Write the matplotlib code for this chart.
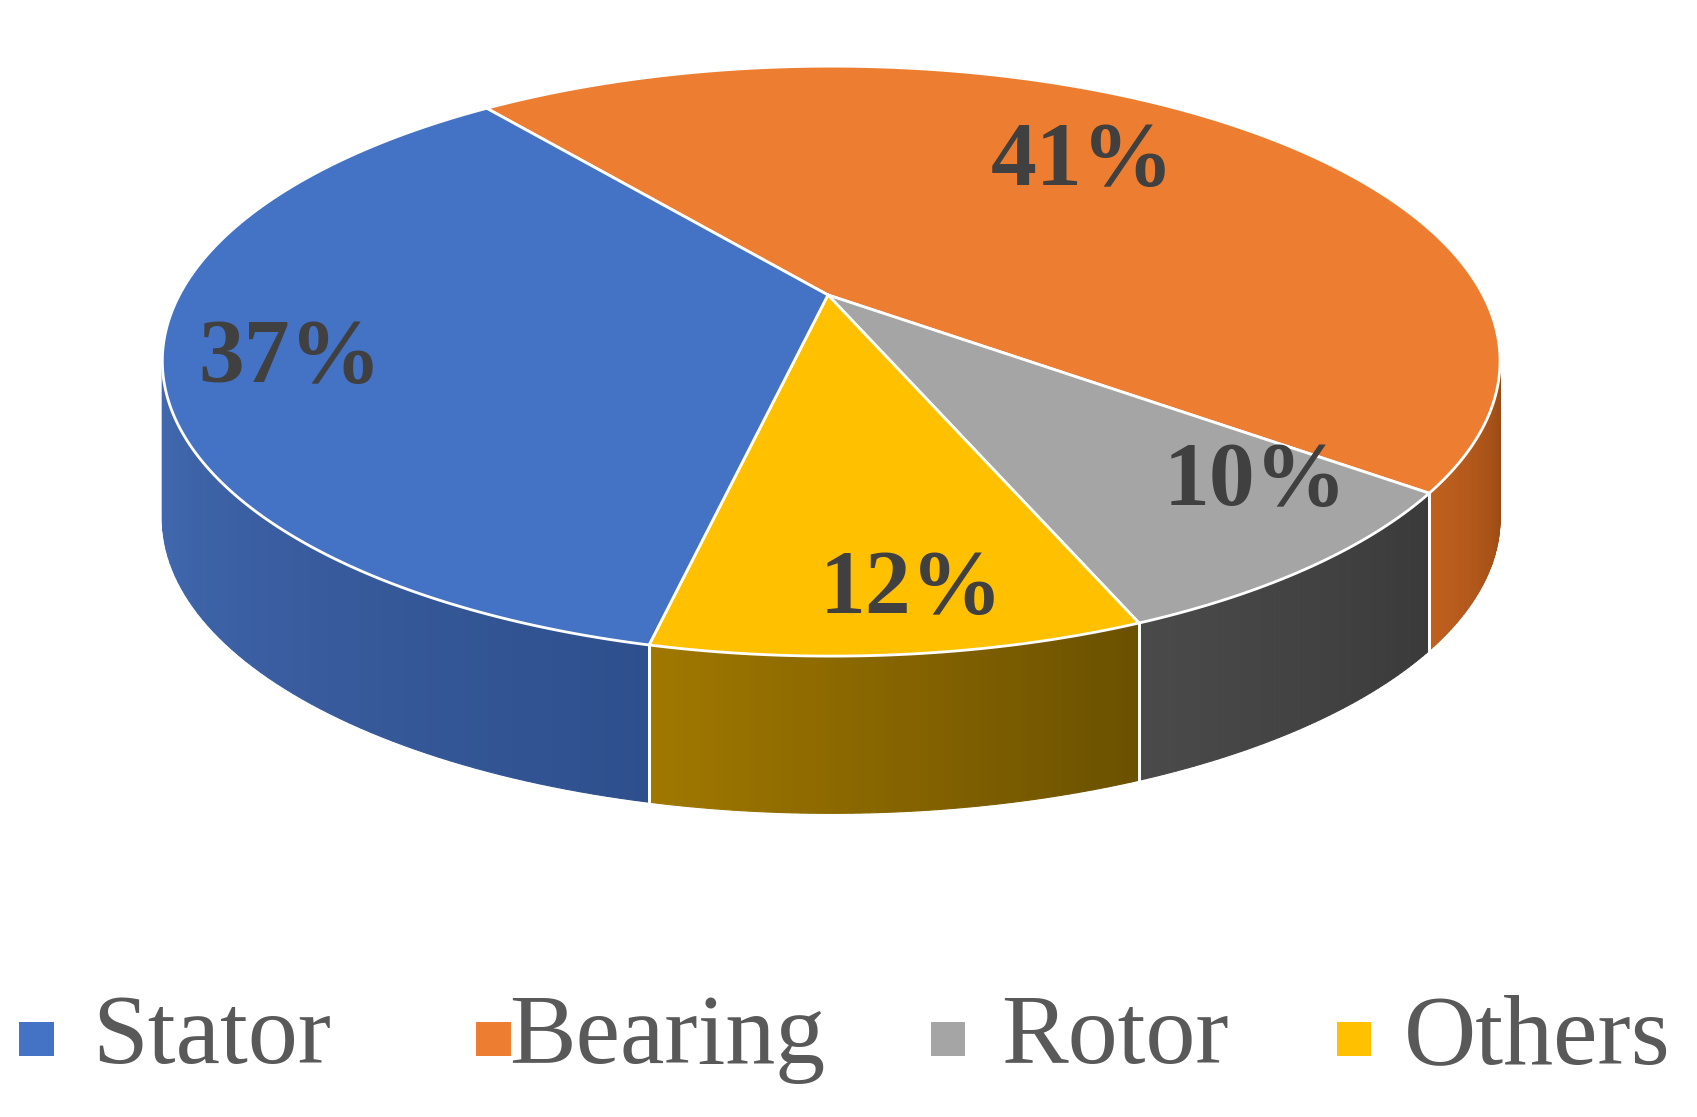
import numpy as np
import matplotlib
matplotlib.use("Agg")
import matplotlib.pyplot as plt
from matplotlib.patches import Polygon
from matplotlib.colors import to_rgb

labels = ["Stator", "Bearing", "Rotor", "Others"]
values = [37, 41, 10, 12]
top_colors = ["#4472C4", "#ED7D31", "#A5A5A5", "#FFC000"]
side_light = ["#4269B0", "#C0601E", "#4A4A4A", "#A07800"]
side_dark = ["#2E4F8C", "#9A4A14", "#3A3A3A", "#6A5000"]

# draw order clockwise from start: Bearing, Rotor, Others, Stator
order = [1, 2, 3, 0]
start = 121.0
cx, cy, a, b, depth = 768, 333, 618, 272, 145
vx, vy = 765, 272

fig = plt.figure(figsize=(16.97, 11.17), dpi=100)
ax = fig.add_axes([0, 0, 1, 1])
ax.set_xlim(0, 1568); ax.set_ylim(1030, 0); ax.axis("off")

def pt(t):
    r = np.radians(t)
    return cx + a*np.cos(r), cy - b*np.sin(r)

total = sum(values)
ranges = {}
ang = start
for i in order:
    span = 360*values[i]/total
    ranges[i] = (ang-span, ang)
    ang -= span

# sides
for i in order:
    t0, t1 = ranges[i]
    for shift in (0, -360, 360):
        lo, hi = max(t0+shift, -180), min(t1+shift, 0)
        if hi <= lo:
            continue
        ts = np.linspace(lo, hi, 60)
        c1, c2 = np.array(to_rgb(side_light[i])), np.array(to_rgb(side_dark[i]))
        for k in range(len(ts)-1):
            f = k/(len(ts)-1)
            xa, ya = pt(ts[k]); xb, yb = pt(ts[k+1])
            col = c1*(1-f)+c2*f
            ax.add_patch(Polygon([(xa, ya), (xb, yb), (xb, yb+depth), (xa, ya+depth)],
                                 closed=True, fc=col, ec=col, lw=0.8))
        for edge in (lo, hi):
            if edge in (t0+shift, t1+shift):
                x, y = pt(edge)
                ax.plot([x, x], [y, y+depth], color="white", lw=2)

# top
for i in order:
    t0, t1 = ranges[i]
    ts = np.linspace(t0, t1, 200)
    xs, ys = pt(ts)
    poly = [(vx, vy)] + list(zip(xs, ys))
    ax.add_patch(Polygon(poly, closed=True, fc=top_colors[i], ec="white", lw=2, joinstyle="round"))

label_pos = {0: (268, 332), 1: (1000, 150), 2: (1160, 445), 3: (842, 545)}
for i in order:
    x, y = label_pos[i]
    ax.text(x, y, f"{values[i]}%", ha="center", va="center", fontsize=66,
            fontweight="bold", family="Liberation Serif", color="#404040")

leg_sq = [18, 440, 860, 1235]
leg_tx = [85, 470, 925, 1297]
for i in range(4):
    ax.add_patch(Polygon([(leg_sq[i], 942), (leg_sq[i]+32, 942), (leg_sq[i]+32, 974), (leg_sq[i], 974)],
                         closed=True, fc=top_colors[i], ec="none"))
    ax.text(leg_tx[i], 958, labels[i], ha="left", va="center", fontsize=72,
            family="Liberation Serif", color="#595959")

fig.savefig("out.png", dpi=100)
